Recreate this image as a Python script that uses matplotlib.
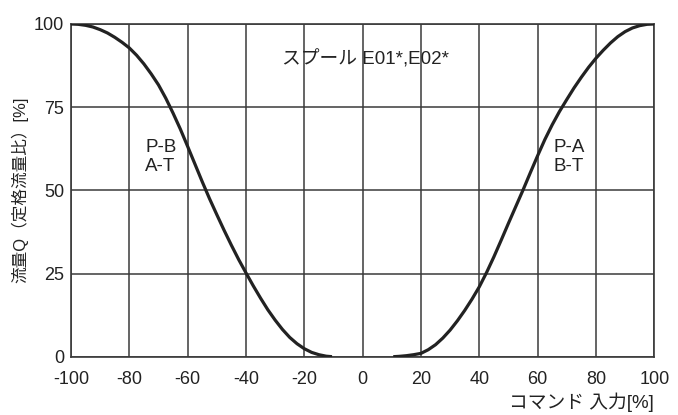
import matplotlib
matplotlib.use("Agg")
import matplotlib.pyplot as plt

plt.rcParams['font.family'] = ['Liberation Sans', 'Noto Sans CJK JP', 'DejaVu Sans']

# Flow characteristic, P-B / A-T side (negative command)
neg_cmd = [-100, -97.5, -95, -92.5, -90, -87.5, -85, -82.5, -80, -77.5, -75,
           -72.5, -70, -67.5, -65, -62.5, -60, -57.5, -55, -52.5, -50, -47.5,
           -45, -42.5, -40, -37.5, -35, -32.5, -30, -27.5, -25, -22.5, -20,
           -17.5, -15, -12.5, -10.5]
neg_flow = [100, 99.9, 99.6, 99.1, 98.3, 97.3, 96.0, 94.5, 92.8, 90.6, 88.0,
            85.0, 81.7, 77.7, 73.2, 68.4, 63.2, 57.9, 52.6, 47.5, 42.7, 38.0,
            33.5, 29.2, 25.2, 21.3, 17.6, 14.1, 11.0, 8.2, 5.8, 3.9, 2.4,
            1.3, 0.6, 0.15, 0]

# Flow characteristic, P-A / B-T side (positive command)
pos_cmd = [10.5, 12.5, 15, 17.5, 20, 22.5, 25, 27.5, 30, 32.5, 35, 37.5, 40,
           42.5, 45, 47.5, 50, 52.5, 55, 57.5, 60, 62.5, 65, 67.5, 70, 72.5,
           75, 77.5, 80, 82.5, 85, 87.5, 90, 92.5, 95, 97.5, 100]
pos_flow = [0, 0.1, 0.3, 0.6, 1.0, 2.1, 3.6, 5.6, 8.0, 10.8, 13.9, 17.3, 21.0,
            25.3, 30.0, 35.0, 40.1, 45.1, 50.1, 55.3, 60.4, 65.3, 69.7, 73.7,
            77.3, 80.8, 84.0, 87.0, 89.7, 92.1, 94.3, 96.2, 97.7, 98.8, 99.5,
            99.9, 100]

x_ticks = [-100, -80, -60, -40, -20, 0, 20, 40, 60, 80, 100]
y_ticks = [0, 25, 50, 75, 100]

title_text = "スプール E01*,E02*"
label_neg = "P-B\nA-T"
label_pos = "P-A\nB-T"
x_label = "コマンド 入力[%]"
y_label = "流量Q（定格流量比）[%]"

grid_col = "#3a3a3a"
curve_col = "#222222"
text_col = "#222222"

fig = plt.figure(figsize=(6.78, 4.15), dpi=100)
ax = fig.add_axes([0.1047, 0.1405, 0.8603, 0.8017])

ax.plot(neg_cmd, neg_flow, color=curve_col, lw=2.3, solid_joinstyle='round',
        solid_capstyle='butt', zorder=3)
ax.plot(pos_cmd, pos_flow, color=curve_col, lw=2.3, solid_joinstyle='round',
        solid_capstyle='butt', zorder=3)

ax.set_xlim(-100, 100)
ax.set_ylim(0, 100)
ax.set_xticks(x_ticks)
ax.set_yticks(y_ticks)
ax.set_xticklabels([str(v) for v in x_ticks])
ax.set_yticklabels([str(v) for v in y_ticks])
ax.tick_params(length=0, labelsize=13, colors=text_col)
ax.tick_params(axis='x', pad=10)
ax.tick_params(axis='y', pad=5)

ax.grid(True, color=grid_col, lw=1.1)
ax.set_axisbelow(True)
for s in ax.spines.values():
    s.set_color(grid_col)
    s.set_linewidth(1.2)

ax.text(1, 89.5, title_text, ha='center', va='center', fontsize=13.5, color=text_col)
ax.text(-74.6, 60, label_neg, ha='left', va='center', fontsize=13.5, color=text_col,
        linespacing=1.1)
ax.text(65.4, 60, label_pos, ha='left', va='center', fontsize=13.5, color=text_col,
        linespacing=1.1)

fig.text(654 / 678, 1 - 402 / 415, x_label, ha='right', va='center', fontsize=13.5,
         color=text_col)
fig.text(20 / 678, 1 - 190 / 415, y_label, ha='center', va='center', fontsize=12,
         rotation=90, color=text_col)

fig.savefig("out.png", dpi=100)
